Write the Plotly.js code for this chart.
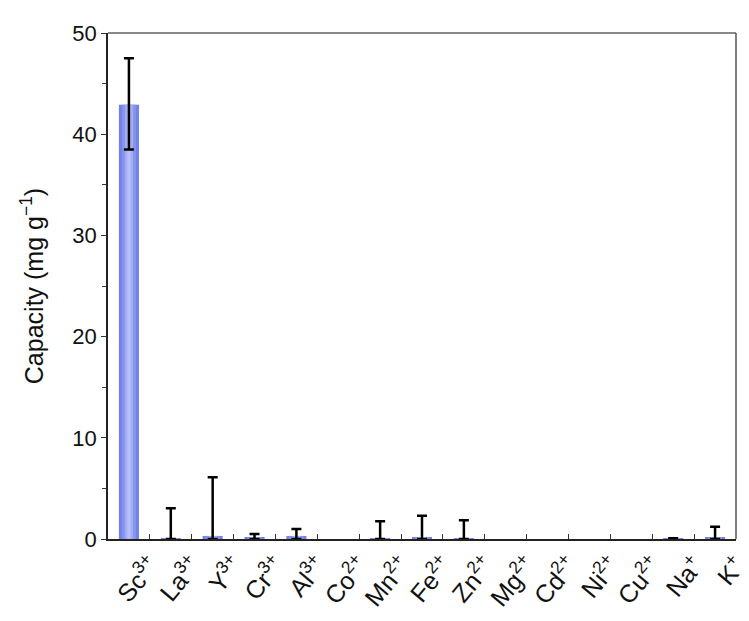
<!DOCTYPE html>
<html><head><meta charset="utf-8">
<script src="https://cdn.plot.ly/plotly-3.0.1.min.js"></script>
<style>body{margin:0;background:#fff}#chart{width:749px;height:621px}</style>
</head><body><div id="chart"></div>
<script>
const ions = ["Sc","La","Y","Cr","Al","Co","Mn","Fe","Zn","Mg","Cd","Ni","Cu","Na","K"];
const charges = ["3+","3+","3+","3+","3+","2+","2+","2+","2+","2+","2+","2+","2+","+","+"];
const capacity = [42.9, 0.05, 0.3, 0.1, 0.3, 0, 0.05, 0.2, 0.05, 0, 0, 0, 0, 0.05, 0.1];
const errPlus = [4.6, 3.0, 5.8, 0.4, 0.7, 0, 1.7, 2.1, 1.8, 0, 0, 0, 0, 0.02, 1.1];
const errMinus = [4.4, 0.05, 0.3, 0.1, 0.3, 0, 0.05, 0.2, 0.05, 0, 0, 0, 0, 0.05, 0.1];
const yTicks = [0, 10, 20, 30, 40, 50];

const tickText = ions.map((s, i) => s + "<sup>" + charges[i] + "</sup>");
const layers = [
  {w: 0.48, c: "#7182ea"},
  {w: 0.34, c: "#8593ee"},
  {w: 0.2, c: "#a0acf3"},
  {w: 0.08, c: "#b6bff7"}
];
const traces = layers.map((L, k) => ({
  type: "bar", x: ions, y: capacity, width: L.w,
  marker: {color: L.c, line: {width: 0}},
  hoverinfo: "skip", showlegend: false
}));
const errY = capacity.map((v, i) => (errPlus[i] > 0 ? v : null));
traces.push({
  type: "scatter", mode: "markers", x: ions, y: errY,
  marker: {size: 1, color: "rgba(0,0,0,0)"},
  error_y: {type: "data", symmetric: false, array: errPlus, arrayminus: errMinus,
            color: "#000", thickness: 2.5, width: 5},
  showlegend: false
});
const layout = {
  width: 749, height: 621,
  margin: {l: 108, r: 13, t: 33, b: 82},
  paper_bgcolor: "#fff", plot_bgcolor: "#fff",
  barmode: "overlay",
  font: {family: "'Liberation Sans', Arial, sans-serif", color: "#111"},
  xaxis: {
    type: "category", tickvals: ions, ticktext: tickText, tickangle: -50,
    tickson: "boundaries", ticks: "inside", ticklen: 5, tickcolor: "#333",
    ticklabelshift: 22, ticklabelstandoff: 0,
    showline: true, linecolor: "#222", linewidth: 1.5, mirror: false,
    tickfont: {size: 25, color: "#111"}, showgrid: false, zeroline: false,
    range: [-0.5, 14.5]
  },
  yaxis: {
    range: [0, 50], tickvals: yTicks, ticks: "outside", ticklen: 5, tickcolor: "#333",
    minor: {dtick: 5, ticks: "outside", ticklen: 4, tickcolor: "#333", showgrid: false},
    showline: true, linecolor: "#222", linewidth: 1.5,
    tickfont: {size: 22, color: "#111"}, showgrid: false, zeroline: false,
    title: {text: "Capacity (mg g<sup>\u22121</sup>)", font: {size: 25, color: "#111"}, standoff: 22}
  },
  shapes: [
    {type: "line", xref: "paper", yref: "paper", x0: 0, x1: 1, y0: 1, y1: 1, line: {color: "#888", width: 2}},
    {type: "line", xref: "paper", yref: "paper", x0: 1, x1: 1, y0: 0, y1: 1, line: {color: "#555", width: 1.5}}
  ]
};
Plotly.newPlot("chart", traces, layout, {displayModeBar: false});
</script></body></html>
